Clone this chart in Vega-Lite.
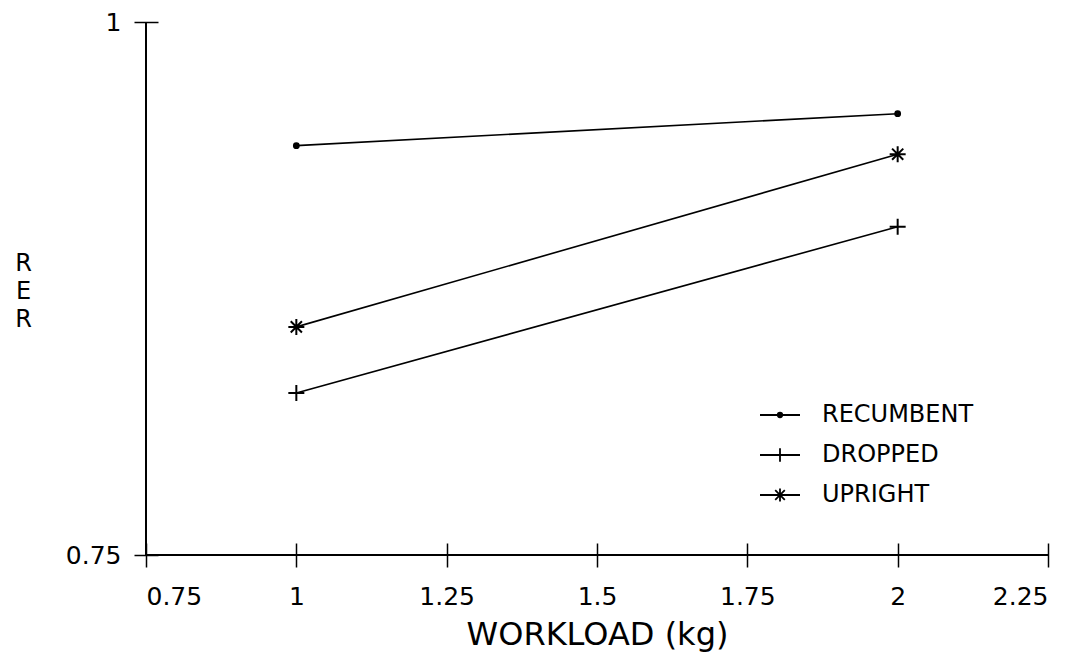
{
  "$schema": "https://vega.github.io/schema/vega-lite/v6.json",
  "width": 902,
  "height": 533,
  "autosize": {"type": "none"},
  "padding": {"left": 146, "top": 22, "right": 35, "bottom": 105},
  "background": "white",
  "config": {
    "view": {"stroke": null},
    "font": "DejaVu Sans",
    "axis": {
      "domain": false,
      "grid": false,
      "tickColor": "black",
      "tickWidth": 1.5,
      "tickSize": 24,
      "offset": -12,
      "labelColor": "black",
      "labelFont": "DejaVu Sans",
      "labelFontSize": 25,
      "titleFont": "DejaVu Sans",
      "titleColor": "black",
      "titleFontWeight": "normal"
    }
  },
  "datasets": {
    "rer": [
      {"workload": 1, "rer": 0.942, "position": "RECUMBENT"},
      {"workload": 2, "rer": 0.957, "position": "RECUMBENT"},
      {"workload": 1, "rer": 0.826, "position": "DROPPED"},
      {"workload": 2, "rer": 0.904, "position": "DROPPED"},
      {"workload": 1, "rer": 0.857, "position": "UPRIGHT"},
      {"workload": 2, "rer": 0.938, "position": "UPRIGHT"}
    ]
  },
  "data": {"name": "rer"},
  "resolve": {"scale": {"shape": "independent"}},
  "layer": [
    {
      "mark": {"type": "rule", "color": "black", "strokeWidth": 1.5},
      "encoding": {
        "x": {"datum": 0.75, "type": "quantitative"}
      }
    },
    {
      "mark": {"type": "rule", "color": "black", "strokeWidth": 1.5},
      "encoding": {
        "y": {"datum": 0.75, "type": "quantitative"}
      }
    },
    {
      "mark": {"type": "line", "color": "black", "strokeWidth": 1.6},
      "encoding": {
        "x": {
          "field": "workload", "type": "quantitative",
          "scale": {"domain": [0.75, 2.25], "nice": false, "zero": false},
          "axis": {
            "values": [0.75, 1, 1.25, 1.5, 1.75, 2, 2.25],
            "format": "~g",
            "labelPadding": 17,
            "title": "WORKLOAD (kg)",
            "titleFontSize": 32,
            "titlePadding": 10
          }
        },
        "y": {
          "field": "rer", "type": "quantitative",
          "scale": {"domain": [0.75, 1], "nice": false, "zero": false},
          "axis": {
            "values": [0.75, 1],
            "format": "~g",
            "labelPadding": 13,
            "title": ["R", "E", "R"],
            "titleAngle": 0,
            "titleFontSize": 24,
            "titleLineHeight": 28,
            "titleAlign": "center",
            "titleBaseline": "middle",
            "titleX": -135,
            "titleY": 241
          }
        },
        "detail": {"field": "position"}
      }
    },
    {
      "mark": {"type": "point", "filled": false, "color": "black", "strokeWidth": 2, "opacity": 1, "size": 256},
      "encoding": {
        "x": {"field": "workload", "type": "quantitative"},
        "y": {"field": "rer", "type": "quantitative"},
        "shape": {
          "field": "position", "type": "nominal",
          "scale": {
            "domain": ["RECUMBENT", "DROPPED", "UPRIGHT"],
            "range": [
              "M-0.3,0A0.3,0.3 0 1,0 0.3,0A0.3,0.3 0 1,0 -0.3,0ZM-0.15,0A0.15,0.15 0 1,0 0.15,0A0.15,0.15 0 1,0 -0.15,0Z",
              "M-1,0H1M0,-1V1",
              "M-1,0H1M0,-1V1M-0.7,-0.7L0.7,0.7M-0.7,0.7L0.7,-0.7"
            ]
          },
          "legend": null
        }
      }
    },
    {
      "transform": [{"filter": "datum.workload > 100"}],
      "mark": {"type": "point", "filled": false, "color": "black", "strokeWidth": 1.8, "opacity": 1, "size": 256},
      "encoding": {
        "x": {"field": "workload", "type": "quantitative"},
        "y": {"field": "rer", "type": "quantitative"},
        "shape": {
          "field": "position", "type": "nominal",
          "scale": {
            "domain": ["RECUMBENT", "DROPPED", "UPRIGHT"],
            "range": [
              "M-2.5,0H2.5M-0.28,0A0.28,0.28 0 1,0 0.28,0A0.28,0.28 0 1,0 -0.28,0ZM-0.12,0A0.12,0.12 0 1,0 0.12,0A0.12,0.12 0 1,0 -0.12,0Z",
              "M-2.5,0H2.5M0,-0.85V0.85",
              "M-2.5,0H2.5M0,-0.8V0.8M-0.6,-0.6L0.6,0.6M-0.6,0.6L0.6,-0.6"
            ]
          },
          "legend": {
            "title": null,
            "orient": "none",
            "legendX": 622,
            "legendY": 381,
            "symbolSize": 256,
            "symbolStrokeColor": "black",
            "symbolStrokeWidth": 1.8,
            "symbolOpacity": 1,
            "labelFont": "DejaVu Sans",
            "labelFontSize": 24,
            "labelColor": "black",
            "labelOffset": 30,
            "rowPadding": 16
          }
        }
      }
    }
  ]
}
